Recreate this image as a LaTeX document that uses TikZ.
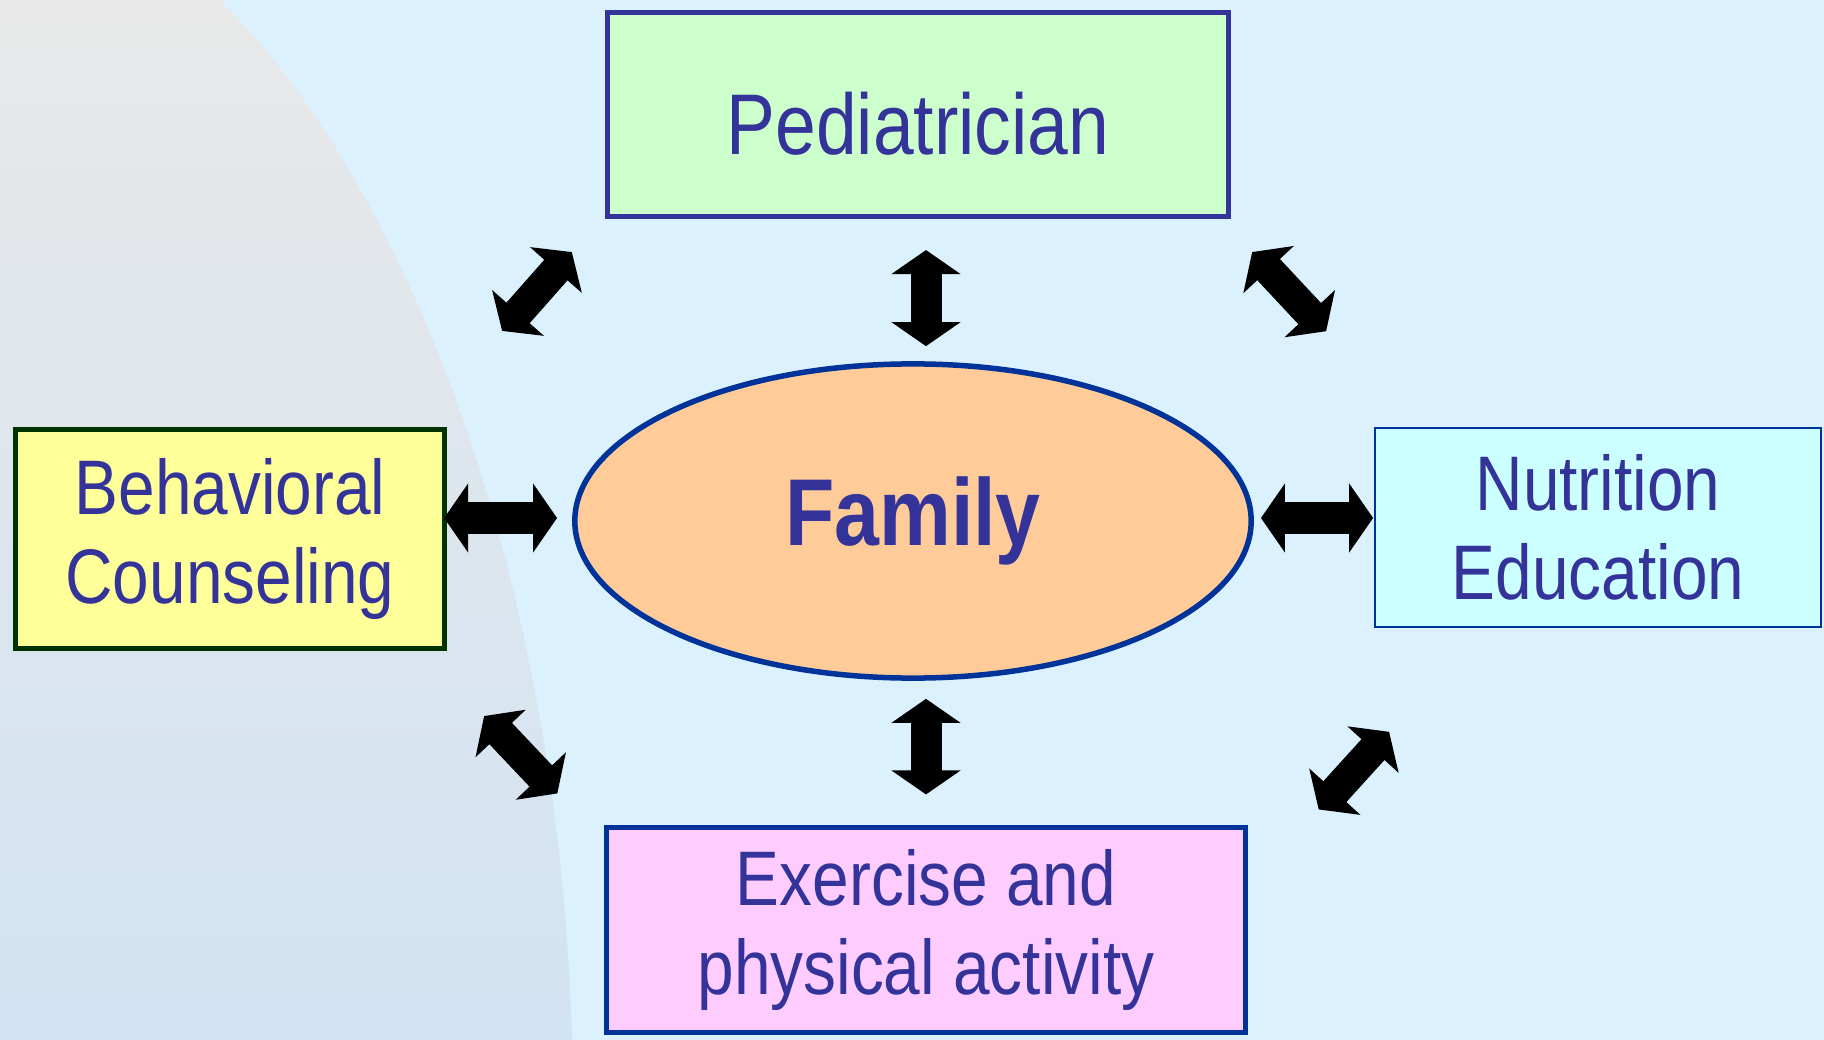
\documentclass[tikz,border=0pt]{standalone}
\usepackage{fontspec}
\setmainfont{Liberation Sans}[FakeStretch=0.85]
\usepackage{tikz}
\usetikzlibrary{arrows.meta,shapes.geometric}

\definecolor{bgblue}{HTML}{DCF1FE}
\definecolor{bgtop}{HTML}{E8E8E8}
\definecolor{bgbot}{HTML}{D2E3F3}
\definecolor{txtblue}{HTML}{333399}
\definecolor{lineblue}{HTML}{003399}
\definecolor{darkgreen}{HTML}{003300}
\definecolor{pedfill}{HTML}{CCFFCC}
\definecolor{behfill}{HTML}{FFFF99}
\definecolor{nutfill}{HTML}{CCFFFF}
\definecolor{exefill}{HTML}{FFCCFF}
\definecolor{famfill}{HTML}{FFCC99}

\begin{document}
\begin{tikzpicture}[x=0.01cm,y=-0.01cm,
blk/.style n args={4}{draw=#1,fill=#2,minimum width=#3,minimum height=#4,rectangle,align=center,text=txtblue,font=\fontsize{22}{25.5}\selectfont},
link/.style={line width=0.31cm,{Triangle[width=0.68cm,length=0.24cm]}-{Triangle[width=0.68cm,length=0.24cm]}}]
\useasboundingbox (0,0) rectangle (1824,1040);
\fill[bgblue] (0,0) rectangle (1824,1040);
\shade[top color=bgtop,bottom color=bgbot] (0,0) -- (220,0) .. controls (420,200) and (560,600) .. (572,1040) -- (0,1040) -- cycle;
% boxes
\node[blk={txtblue}{pedfill}{6.21cm}{2.04cm},line width=0.05cm,font=\fontsize{24.5}{28}\selectfont,text height=0.8cm,text depth=0cm] (ped) at (918,114.5) {Pediatrician};
\node[blk={darkgreen}{behfill}{4.29cm}{2.19cm},line width=0.05cm] (beh) at (230,539) {Behavioral\\Counseling};
\node[blk={lineblue}{nutfill}{4.46cm}{1.99cm},line width=0.015cm] (nut) at (1598,527.5) {Nutrition\\Education};
\node[blk={lineblue}{exefill}{6.38cm}{2.04cm},line width=0.05cm] (exe) at (926,930) {Exercise and\\physical activity};
\node[ellipse,draw=lineblue,fill=famfill,line width=0.055cm,minimum width=6.76cm,minimum height=3.14cm,text=txtblue,font=\bfseries\fontsize{27}{30}\selectfont] (fam) at (913,521) {Family};
% arrows
\draw[link] ([shift={(13,-15)}]fam.north) -- ([shift={(8,31)}]ped.south);
\draw[link] ([shift={(13,18)}]fam.south) -- ([shift={(0,-31)}]exe.north);
\draw[link] ([shift={(-15,-3)}]fam.west) -- ([shift={(-3,-21)}]beh.east);
\draw[link] ([shift={(7,-3)}]fam.east) -- ([shift={(-1,-9.5)}]nut.west);
\draw[link] ([shift={(55,-96)}]beh.north east) -- ([shift={(-33,33)}]ped.south west);
\draw[link] ([shift={(21,33)}]ped.south east) -- ([shift={(-48,-96)}]nut.north west);
\draw[link] ([shift={(37,65)}]beh.south east) -- ([shift={(-47,-32)}]exe.north west);
\draw[link] ([shift={(71,-16)}]exe.north east) -- ([shift={(15,104)}]nut.south west);
\end{tikzpicture}
\end{document}
